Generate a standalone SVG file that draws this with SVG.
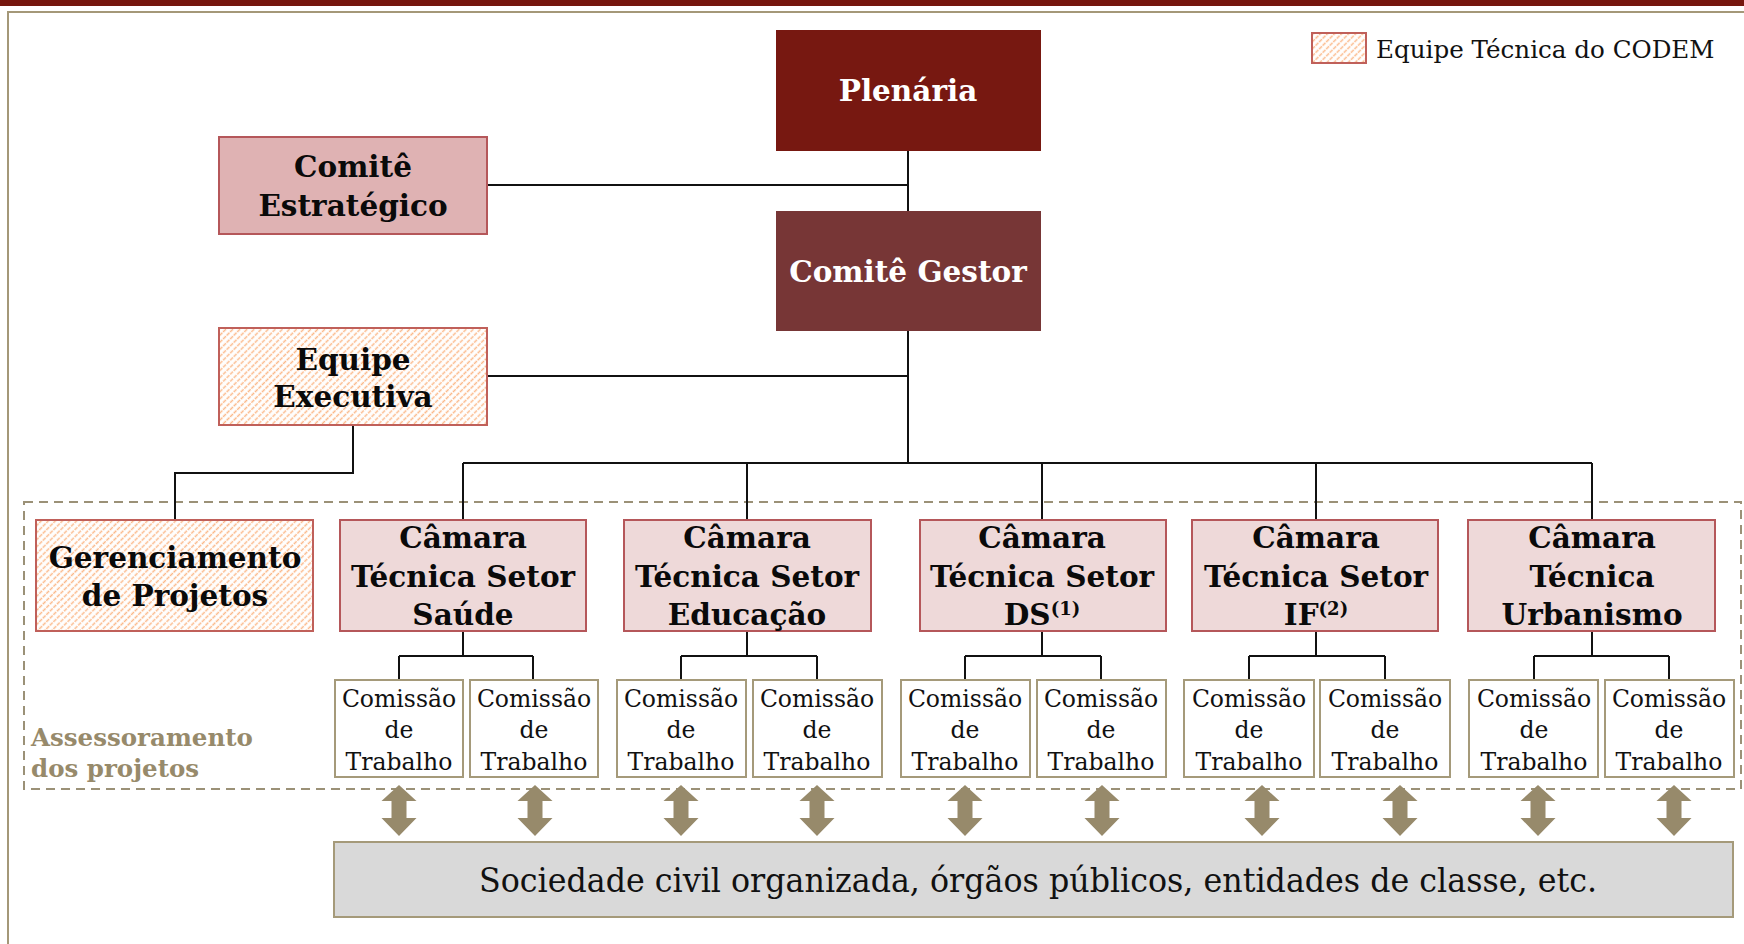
<svg xmlns="http://www.w3.org/2000/svg" width="1744" height="944" viewBox="0 0 1744 944">
<defs>
<pattern id="hatch" patternUnits="userSpaceOnUse" width="5" height="5" patternTransform="rotate(-45)">
<rect width="5" height="5" fill="#ffffff"/>
<line x1="0" y1="2.5" x2="5" y2="2.5" stroke="#fbb98a" stroke-width="1.6" stroke-dasharray="2 1"/>
</pattern>
<style>
.b{font-family:"DejaVu Serif","Liberation Serif",serif;font-weight:bold;font-size:29.5px;text-anchor:middle;fill:#0a0a0a}
.w{fill:#ffffff}
.r{font-family:"DejaVu Serif","Liberation Serif",serif;font-size:23.5px;text-anchor:middle;fill:#111}
.pink{fill:#dfb2b3;stroke:#b5575a;stroke-width:2}
.cam{fill:#eed9d9;stroke:#b5575a;stroke-width:2}
.hat{fill:url(#hatch);stroke:#c0605a;stroke-width:2}
.com{fill:#ffffff;stroke:#a59a7a;stroke-width:2}
.ln{fill:none;stroke:#111;stroke-width:2}
.arr{fill:#978a6b}
</style>
</defs>
<rect width="1744" height="944" fill="#ffffff"/>
<rect x="0" y="0" width="1744" height="6" fill="#76160e"/>
<path d="M8 944 V12 H1744" fill="none" stroke="#a49878" stroke-width="2"/>

<rect x="24" y="502" width="1717" height="287" fill="none" stroke="#9b9177" stroke-width="2" stroke-dasharray="9 6"/>
<text x="31" y="746" font-family="DejaVu Serif, serif" font-weight="bold" font-size="24.5" fill="#978a6b">Assessoramento</text>
<text x="31" y="777" font-family="DejaVu Serif, serif" font-weight="bold" font-size="24.5" fill="#978a6b">dos projetos</text>

<g id="legend">
<rect x="1312" y="33" width="54" height="30" class="hat"/>
<text x="1376" y="58" font-family="DejaVu Serif, serif" font-size="24.6" fill="#111">Equipe Técnica do CODEM</text>
</g>

<g id="connectors">
<path class="ln" d="M908 150 V211 M487 185 H908 M908 331 V463 M487 376 H908 M353 425 V473 H175 V520"/>
<path class="ln" d="M463 463 H1592 M463 463 V520 M747 463 V520 M1042 463 V520 M1316 463 V520 M1592 463 V520"/>
<path class="ln" d="M463 631 V656 M399 656 H533 M399 656 V680 M533 656 V680"/>
<path class="ln" d="M747 631 V656 M681 656 H817 M681 656 V680 M817 656 V680"/>
<path class="ln" d="M1042 631 V656 M965 656 H1101 M965 656 V680 M1101 656 V680"/>
<path class="ln" d="M1316 631 V656 M1249 656 H1385 M1249 656 V680 M1385 656 V680"/>
<path class="ln" d="M1592 631 V656 M1534 656 H1669 M1534 656 V680 M1669 656 V680"/>
</g>

<g id="plenaria">
<rect x="776" y="30" width="265" height="121" fill="#771811"/>
<text x="908" y="101" class="b w">Plenária</text>
</g>
<g id="comite-gestor">
<rect x="776" y="211" width="265" height="120" fill="#773636"/>
<text x="908" y="282" class="b w">Comitê Gestor</text>
</g>
<g id="comite-estrategico">
<rect x="219" y="137" width="268" height="97" class="pink"/>
<text x="353" y="177" class="b">Comitê</text>
<text x="353" y="216" class="b">Estratégico</text>
</g>
<g id="equipe-executiva">
<rect x="219" y="328" width="268" height="97" class="hat"/>
<text x="353" y="370" class="b">Equipe</text>
<text x="353" y="407" class="b">Executiva</text>
</g>
<g id="gerenciamento">
<rect x="36" y="520" width="277" height="111" class="hat"/>
<text x="175" y="568" class="b">Gerenciamento</text>
<text x="175" y="606" class="b">de Projetos</text>
</g>
<g id="ct-saude">
<rect x="340" y="520" width="246" height="111" class="cam"/>
<text x="463" y="548" class="b">Câmara</text>
<text x="463" y="587" class="b">Técnica Setor</text>
<text x="463" y="625" class="b">Saúde</text>
</g>
<g id="ct-educacao">
<rect x="624" y="520" width="247" height="111" class="cam"/>
<text x="747" y="548" class="b">Câmara</text>
<text x="747" y="587" class="b">Técnica Setor</text>
<text x="747" y="625" class="b">Educação</text>
</g>
<g id="ct-ds">
<rect x="920" y="520" width="246" height="111" class="cam"/>
<text x="1042" y="548" class="b">Câmara</text>
<text x="1042" y="587" class="b">Técnica Setor</text>
<text x="1042" y="625" class="b">DS<tspan font-size="18" dy="-10">(1)</tspan></text>
</g>
<g id="ct-if">
<rect x="1192" y="520" width="246" height="111" class="cam"/>
<text x="1316" y="548" class="b">Câmara</text>
<text x="1316" y="587" class="b">Técnica Setor</text>
<text x="1316" y="625" class="b">IF<tspan font-size="18" dy="-10">(2)</tspan></text>
</g>
<g id="ct-urbanismo">
<rect x="1468" y="520" width="247" height="111" class="cam"/>
<text x="1592" y="548" class="b">Câmara</text>
<text x="1592" y="587" class="b">Técnica</text>
<text x="1592" y="625" class="b">Urbanismo</text>
</g>

<g id="comissao-1"><rect x="335" y="680" width="128" height="97" class="com"/><text x="399" y="707" class="r">Comissão</text><text x="399" y="738" class="r">de</text><text x="399" y="770" class="r">Trabalho</text></g>
<g id="comissao-2"><rect x="470" y="680" width="128" height="97" class="com"/><text x="534" y="707" class="r">Comissão</text><text x="534" y="738" class="r">de</text><text x="534" y="770" class="r">Trabalho</text></g>
<g id="comissao-3"><rect x="617" y="680" width="129" height="97" class="com"/><text x="681" y="707" class="r">Comissão</text><text x="681" y="738" class="r">de</text><text x="681" y="770" class="r">Trabalho</text></g>
<g id="comissao-4"><rect x="753" y="680" width="129" height="97" class="com"/><text x="817" y="707" class="r">Comissão</text><text x="817" y="738" class="r">de</text><text x="817" y="770" class="r">Trabalho</text></g>
<g id="comissao-5"><rect x="901" y="680" width="129" height="97" class="com"/><text x="965" y="707" class="r">Comissão</text><text x="965" y="738" class="r">de</text><text x="965" y="770" class="r">Trabalho</text></g>
<g id="comissao-6"><rect x="1037" y="680" width="129" height="97" class="com"/><text x="1101" y="707" class="r">Comissão</text><text x="1101" y="738" class="r">de</text><text x="1101" y="770" class="r">Trabalho</text></g>
<g id="comissao-7"><rect x="1184" y="680" width="130" height="97" class="com"/><text x="1249" y="707" class="r">Comissão</text><text x="1249" y="738" class="r">de</text><text x="1249" y="770" class="r">Trabalho</text></g>
<g id="comissao-8"><rect x="1320" y="680" width="130" height="97" class="com"/><text x="1385" y="707" class="r">Comissão</text><text x="1385" y="738" class="r">de</text><text x="1385" y="770" class="r">Trabalho</text></g>
<g id="comissao-9"><rect x="1469" y="680" width="129" height="97" class="com"/><text x="1534" y="707" class="r">Comissão</text><text x="1534" y="738" class="r">de</text><text x="1534" y="770" class="r">Trabalho</text></g>
<g id="comissao-10"><rect x="1605" y="680" width="129" height="97" class="com"/><text x="1669" y="707" class="r">Comissão</text><text x="1669" y="738" class="r">de</text><text x="1669" y="770" class="r">Trabalho</text></g>

<g id="arrows">
<defs><polygon id="da" points="0,785 17.5,801 7.5,801 7.5,818 17.5,818 0,836 -17.5,818 -7.5,818 -7.5,801 -17.5,801"/></defs>
<use href="#da" x="399" class="arr"/>
<use href="#da" x="535" class="arr"/>
<use href="#da" x="681" class="arr"/>
<use href="#da" x="817" class="arr"/>
<use href="#da" x="965" class="arr"/>
<use href="#da" x="1102" class="arr"/>
<use href="#da" x="1262" class="arr"/>
<use href="#da" x="1400" class="arr"/>
<use href="#da" x="1538" class="arr"/>
<use href="#da" x="1674" class="arr"/>
</g>

<g id="sociedade">
<rect x="334" y="842" width="1399" height="75" fill="#d9d9d9" stroke="#a59a7a" stroke-width="2"/>
<text x="1038" y="892" font-family="DejaVu Serif, serif" font-size="34" text-anchor="middle" fill="#111" textLength="1118" lengthAdjust="spacingAndGlyphs">Sociedade civil organizada, órgãos públicos, entidades de classe, etc.</text>
</g>
</svg>
